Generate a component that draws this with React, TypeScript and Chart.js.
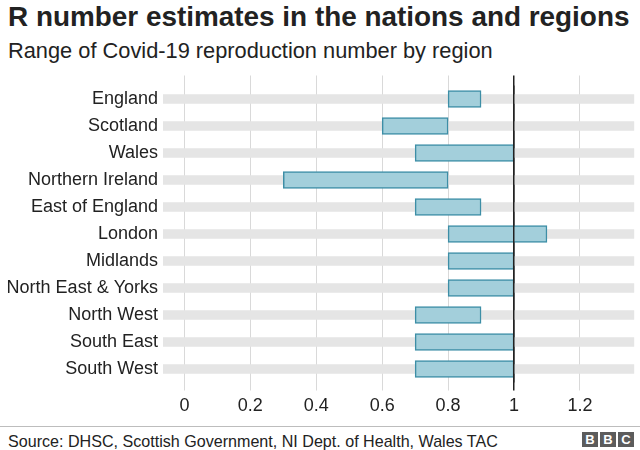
import React, { useEffect, useRef } from "react";
import { Chart, registerables } from "chart.js";

Chart.register(...registerables);

const categories = [
  "England",
  "Scotland",
  "Wales",
  "Northern Ireland",
  "East of England",
  "London",
  "Midlands",
  "North East & Yorks",
  "North West",
  "South East",
  "South West",
];
const lowValues = [0.8, 0.6, 0.7, 0.3, 0.7, 0.8, 0.8, 0.8, 0.7, 0.7, 0.7];
const highValues = [0.9, 0.8, 1.0, 0.8, 0.9, 1.1, 1.0, 1.0, 0.9, 1.0, 1.0];
const tickValues = [0, 0.2, 0.4, 0.6, 0.8, 1, 1.2];
const axisMin = -0.065;
const axisMax = 1.365;
const referenceR = 1;

const FONT = "'Liberation Sans', Arial, Helvetica, sans-serif";

export default function App() {
  const ref = useRef<HTMLCanvasElement | null>(null);

  useEffect(() => {
    if (!ref.current) return;
    const isRef = (ctx: any) => ctx.tick && Math.abs(ctx.tick.value - referenceR) < 1e-9;
    const setTicks = (s: any) => {
      s.ticks = tickValues.map((v) => ({ value: v }));
    };
    const chart = new Chart(ref.current, {
      type: "bar",
      data: {
        labels: categories,
        datasets: [
          {
            label: "R range",
            data: categories.map((_, i) => [lowValues[i], highValues[i]]) as any,
            backgroundColor: "#a3cfdb",
            borderColor: "#3d8ea6",
            borderWidth: 1.5,
            borderSkipped: false,
            barThickness: 17,
            grouped: false,
            order: 0,
          } as any,
          {
            label: "track",
            data: categories.map(() => [axisMin, axisMax]) as any,
            backgroundColor: "#e5e5e5",
            borderWidth: 0,
            barThickness: 9,
            grouped: false,
            order: 1,
          } as any,
        ],
      },
      options: {
        indexAxis: "y",
        animation: false,
        responsive: false,
        layout: { padding: { top: 15.5, right: 5.7, bottom: 0, left: 0 } },
        plugins: {
          legend: { display: false },
          tooltip: { enabled: false },
          title: { display: false },
        },
        scales: {
          y: {
            type: "category",
            position: "left",
            grid: { display: false, drawTicks: false },
            border: { display: false },
            ticks: {
              color: "#222",
              font: { family: FONT, size: 18 },
              padding: 5,
            },
            afterFit: (s: any) => {
              s.width = 163;
            },
          },
          x: {
            type: "linear",
            position: "bottom",
            min: axisMin,
            max: axisMax,
            afterBuildTicks: setTicks,
            border: { display: false },
            grid: {
              color: (ctx: any) => (isRef(ctx) ? "#222" : "#d9d9d9"),
              lineWidth: (ctx: any) => (isRef(ctx) ? 1.5 : 1),
              tickLength: 8,
            },
            ticks: {
              color: "#222",
              font: { family: FONT, size: 18 },
              padding: 5,
              callback: (v: any) => String(Number(Number(v).toFixed(2))),
            },
            afterFit: (s: any) => {
              s.height = 37.5;
            },
          },
          x2: {
            type: "linear",
            position: "top",
            min: axisMin,
            max: axisMax,
            afterBuildTicks: setTicks,
            border: { display: false },
            grid: {
              z: 1,
              drawOnChartArea: true,
              color: (ctx: any) => (isRef(ctx) ? "#222" : "rgba(0,0,0,0)"),
              tickColor: (ctx: any) => (isRef(ctx) ? "#222" : "#d9d9d9"),
              lineWidth: (ctx: any) => (isRef(ctx) ? 1.5 : 1),
              tickLength: 10,
            },
            ticks: { display: false },
            afterFit: (s: any) => {
              s.height = 10;
            },
          },
        },
      } as any,
    });
    return () => chart.destroy();
  }, []);

  const block = (ch: string, left: number) => (
    <div
      style={{
        position: "absolute",
        left,
        top: 432,
        width: 16,
        height: 15,
        background: "#5c5c5c",
        color: "#fff",
        fontFamily: FONT,
        fontWeight: "bold",
        fontSize: 13,
        lineHeight: "15px",
        textAlign: "center",
      }}
    >
      {ch}
    </div>
  );

  return (
    <div
      style={{
        position: "absolute",
        left: 0,
        top: 0,
        width: 640,
        height: 450,
        background: "#fff",
        overflow: "hidden",
        fontFamily: FONT,
        color: "#222",
      }}
    >
      <div
        style={{
          position: "absolute",
          left: 8,
          top: 3,
          fontSize: 27.9,
          fontWeight: "bold",
          lineHeight: 1,
          whiteSpace: "nowrap",
        }}
      >
        R number estimates in the nations and regions
      </div>
      <div
        style={{
          position: "absolute",
          left: 8,
          top: 40,
          fontSize: 21.8,
          lineHeight: 1,
          whiteSpace: "nowrap",
        }}
      >
        Range of Covid-19 reproduction number by region
      </div>
      <canvas
        ref={ref}
        width={640}
        height={360}
        style={{ position: "absolute", left: 0, top: 60, width: 640, height: 360 }}
      />
      <div
        style={{
          position: "absolute",
          left: 0,
          top: 426,
          width: 640,
          height: 1,
          background: "#bdbdbd",
        }}
      />
      <div
        style={{
          position: "absolute",
          left: 8,
          top: 432.5,
          fontSize: 16.1,
          lineHeight: 1,
          whiteSpace: "nowrap",
        }}
      >
        Source: DHSC, Scottish Government, NI Dept. of Health, Wales TAC
      </div>
      {block("B", 582)}
      {block("B", 600)}
      {block("C", 618)}
    </div>
  );
}
